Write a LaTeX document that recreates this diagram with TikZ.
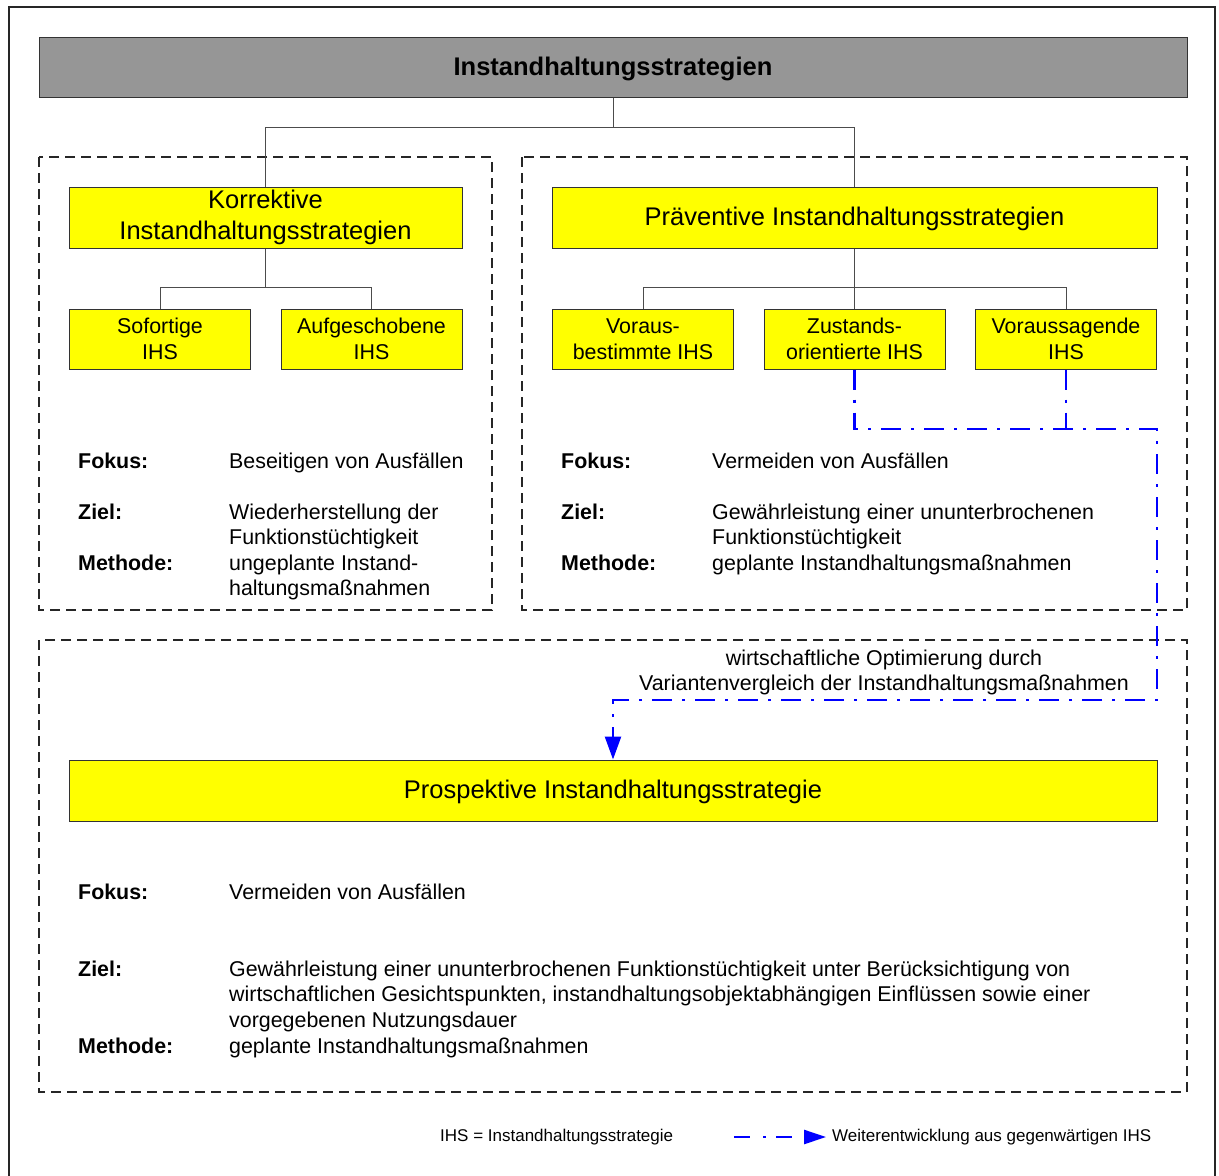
\documentclass[tikz,border=0pt]{standalone}
\usepackage{fontspec}
\setmainfont{Liberation Sans}
\usetikzlibrary{arrows.meta}

\newcommand\fbody{\fontsize{21.4}{25.5}\selectfont}
\newcommand\fbig{\fontsize{25.5}{31}\selectfont}
\newcommand\fsmall{\fontsize{17}{20}\selectfont}

\definecolor{titlegray}{RGB}{150,150,150}
\definecolor{boxyellow}{RGB}{255,255,0}
\definecolor{edge}{RGB}{51,51,51}

\tikzset{
  box/.style={draw=edge, line width=1pt, fill=boxyellow, inner sep=0pt,
    align=center, font=\fbody},
  bigbox/.style={box, font=\fbig, minimum height=61pt,
    execute at begin node={\rule{0pt}{22pt}}},
  subbox/.style={box, minimum width=181pt, minimum height=60pt},
  tree/.style={draw=black!70, line width=1pt},
  group/.style={draw=black!85, line width=1.2pt, dash pattern=on 10pt off 6pt},
  evolve/.style={draw=blue, line width=2.5pt,
    dash pattern=on 20pt off 10pt on 3pt off 10pt},
  tip/.style={-{Triangle[length=23pt,width=16pt]}},
  lbl/.style={anchor=base west, inner sep=0pt, font=\fbody\bfseries},
  txt/.style={anchor=base west, inner sep=0pt, font=\fbody},
}

\begin{document}
\begin{tikzpicture}[x=1pt,y=-1pt]
  \useasboundingbox (0,0) rectangle (1219,1176);
  % outer frame, open at the lower page edge
  \draw[line width=1.2pt, black!85] (9,1176) |- (1215,7) -- (1215,1176);

  % dashed groups
  \draw[group] (39,157) rectangle (492,610);
  \draw[group] (522,157) rectangle (1187,610);
  \draw[group] (39,640) rectangle (1187,1092);

  % top level
  \node[box, fill=titlegray, minimum width=1148pt, minimum height=60pt,
        font=\fbig\bfseries, execute at begin node={\rule{0pt}{22pt}}]
        (title) at (613,67) {Instandhaltungsstrategien};

  \node[bigbox, minimum width=393pt, execute at begin node={\rule{0pt}{26pt}}]
        (korr) at (265.5,217.5) {Korrektive\\Instandhaltungsstrategien};
  \node[bigbox, minimum width=605pt] (praev) at (854.5,217.5)
        {Präventive Instandhaltungsstrategien};

  \node[subbox] (sof) at (160,339) {Sofortige\\IHS};
  \node[subbox] (auf) at (371.5,339) {Aufgeschobene\\IHS};
  \node[subbox] (vor) at (643,339) {Voraus-\\bestimmte IHS};
  \node[subbox] (zust) at (854.5,339) {Zustands-\\orientierte IHS};
  \node[subbox] (vsag) at (1066,339) {Voraussagende\\IHS};

  \node[bigbox, minimum width=1088pt] (prosp) at (613,790.5)
        {Prospektive Instandhaltungsstrategie};

  % hierarchy connectors
  \draw[tree] (title.south) -- ++(0,30) -| (korr.north);
  \draw[tree] (title.south) -- ++(0,30) -| (praev.north);
  \draw[tree] (korr.south) -- ++(0,39) -| (sof.north);
  \draw[tree] (korr.south) -- ++(0,39) -| (auf.north);
  \draw[tree] (praev.south) -- (zust.north);
  \draw[tree] (praev.south) -- ++(0,39) -| (vor.north);
  \draw[tree] (praev.south) -- ++(0,39) -| (vsag.north);

  % further development path
  \coordinate (turn) at (1157,429);
  \coordinate (drop) at (613,700);
  \draw[evolve] (vsag.south) -- (vsag.south |- turn);
  \draw[evolve, tip] (zust.south) |- (turn) |- (drop) -- (prosp.north);

  \node[font=\fbody, inner sep=0pt, anchor=base] (opt) at (884,665)
        {wirtschaftliche Optimierung durch};
  \node[font=\fbody, inner sep=0pt, anchor=base] (opt2) at (884,690)
        {Variantenvergleich der Instandhaltungsmaßnahmen};

  % corrective texts
  \node[lbl] (kf) at (78,468) {Fokus:};
  \node[txt] (kfv) at (229,468) {Beseitigen von Ausfällen};
  \node[lbl] (kz) at (78,519) {Ziel:};
  \node[txt] (kzv1) at (229,519) {Wiederherstellung der};
  \node[txt] (kzv2) at (229,544) {Funktionstüchtigkeit};
  \node[lbl] (km) at (78,570) {Methode:};
  \node[txt] (kmv1) at (229,570) {ungeplante Instand-};
  \node[txt] (kmv2) at (229,595) {haltungsmaßnahmen};

  % preventive texts
  \node[lbl] (pf) at (561,468) {Fokus:};
  \node[txt] (pfv) at (712,468) {Vermeiden von Ausfällen};
  \node[lbl] (pz) at (561,519) {Ziel:};
  \node[txt] (pzv1) at (712,519) {Gewährleistung einer ununterbrochenen};
  \node[txt] (pzv2) at (712,544) {Funktionstüchtigkeit};
  \node[lbl] (pm) at (561,570) {Methode:};
  \node[txt] (pmv) at (712,570) {geplante Instandhaltungsmaßnahmen};

  % prospective texts
  \node[lbl] (sf) at (78,899) {Fokus:};
  \node[txt] (sfv) at (229,899) {Vermeiden von Ausfällen};
  \node[lbl] (sz) at (78,976) {Ziel:};
  \node[txt] (szv1) at (229,976) {Gewährleistung einer ununterbrochenen Funktionstüchtigkeit unter Berücksichtigung von};
  \node[txt] (szv2) at (229,1001.5) {wirtschaftlichen Gesichtspunkten, instandhaltungsobjektabhängigen Einflüssen sowie einer};
  \node[txt] (szv3) at (229,1027) {vorgegebenen Nutzungsdauer};
  \node[lbl] (sm) at (78,1053) {Methode:};
  \node[txt] (smv) at (229,1053) {geplante Instandhaltungsmaßnahmen};

  % legend
  \node[anchor=west, inner sep=0pt, font=\fsmall] (abbr) at (440,1137)
        {IHS = Instandhaltungsstrategie};
  \coordinate (lstart) at (734,1137);
  \node[anchor=west, inner sep=0pt, font=\fsmall] (legtxt) at (832,1137)
        {Weiterentwicklung aus gegenwärtigen IHS};
  \draw[evolve, dash pattern=on 16pt off 13pt on 3pt off 10pt,
        -{Triangle[length=22pt,width=14pt]}] (lstart) -- ([xshift=-6pt]legtxt.west);
\end{tikzpicture}
\end{document}
